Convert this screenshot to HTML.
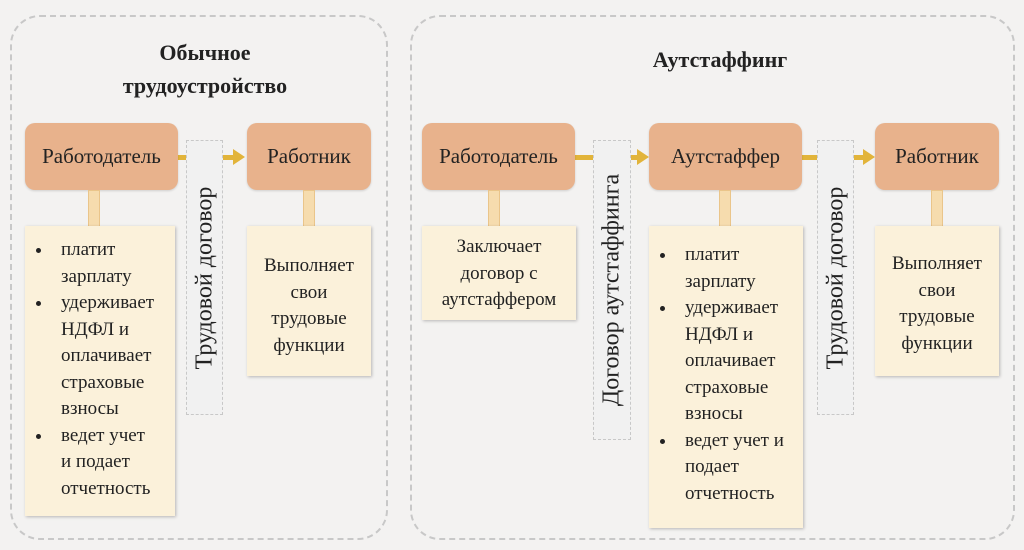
<!DOCTYPE html>
<html><head><meta charset="utf-8"><style>
body{margin:0;width:1024px;height:550px;background:#f3f2f1;position:relative;overflow:hidden;font-family:"Liberation Serif",serif;color:#222}
div{position:absolute;box-sizing:border-box}
.cont{border:2px dashed #c8c8c8;border-radius:30px}
.t{font-weight:bold;font-size:22px;text-align:center}
.box{background:#e8b28c;border-radius:10px;font-size:21px;display:flex;align-items:center;justify-content:center;top:123px;height:67px;box-shadow:0 1px 2px rgba(0,0,0,.15)}
.det{background:#fbf1da;font-size:19px;line-height:26.5px;top:226px;box-shadow:1px 1px 3px rgba(0,0,0,.25)}
.stem{background:#f6dcae;border:1px solid #eac58a;width:12px;top:190px;height:37px}
.vl{border:1px dashed #c8c8c8;background:#f1f1f1;top:140px}
.vl span{position:absolute;left:50%;top:50%;transform:translate(-50%,-50%) rotate(-90deg);white-space:nowrap;font-size:24px}
.ln{background:#e2b43a;height:5px;top:155px}
.ah{width:0;height:0;border-top:8px solid transparent;border-bottom:8px solid transparent;border-left:12px solid #e2b43a;top:149px}
ul{margin:0;padding:0 0 0 28px}
li{padding-left:8px}
.c{text-align:center}
</style></head><body>
<div class="cont" style="left:10px;top:15px;width:378px;height:525px"></div>
<div class="cont" style="left:410px;top:15px;width:605px;height:525px"></div>
<div class="t" style="left:60px;top:36px;width:290px;line-height:33px">Обычное<br>трудоустройство</div>
<div class="t" style="left:600px;top:47px;width:240px">Аутстаффинг</div>

<div class="ln" style="left:178px;width:10px"></div>
<div class="ln" style="left:223px;width:10px"></div><div class="ah" style="left:233px"></div>
<div class="ln" style="left:575px;width:18px"></div>
<div class="ln" style="left:631px;width:6px"></div><div class="ah" style="left:637px"></div>
<div class="ln" style="left:802px;width:15px"></div>
<div class="ln" style="left:854px;width:9px"></div><div class="ah" style="left:863px"></div>

<div class="box" style="left:25px;width:153px">Работодатель</div>
<div class="box" style="left:247px;width:124px">Работник</div>
<div class="box" style="left:422px;width:153px">Работодатель</div>
<div class="box" style="left:649px;width:153px">Аутстаффер</div>
<div class="box" style="left:875px;width:124px">Работник</div>

<div class="stem" style="left:88px"></div>
<div class="stem" style="left:303px"></div>
<div class="stem" style="left:488px"></div>
<div class="stem" style="left:719px"></div>
<div class="stem" style="left:931px"></div>

<div class="vl" style="left:186px;width:37px;height:275px"><span>Трудовой договор</span></div>
<div class="vl" style="left:593px;width:38px;height:300px"><span>Договор аутстаффинга</span></div>
<div class="vl" style="left:817px;width:37px;height:275px"><span>Трудовой договор</span></div>

<div class="det" style="left:25px;width:150px;height:290px;padding-top:11px;padding-right:4px"><ul><li>платит зарплату</li><li>удерживает НДФЛ и оплачивает страховые взносы</li><li>ведет учет и&nbsp;подает отчетность</li></ul></div>
<div class="det c" style="left:247px;width:124px;height:150px;padding-top:27px">Выполняет<br>свои<br>трудовые<br>функции</div>
<div class="det c" style="left:422px;width:154px;height:94px;padding-top:8px">Заключает<br>договор с<br>аутстаффером</div>
<div class="det" style="left:649px;width:154px;height:302px;padding-top:16px;padding-right:4px"><ul><li>платит зарплату</li><li>удерживает НДФЛ и оплачивает страховые взносы</li><li>ведет учет и подает отчетность</li></ul></div>
<div class="det c" style="left:875px;width:124px;height:150px;padding-top:25px">Выполняет<br>свои<br>трудовые<br>функции</div>
</body></html>
